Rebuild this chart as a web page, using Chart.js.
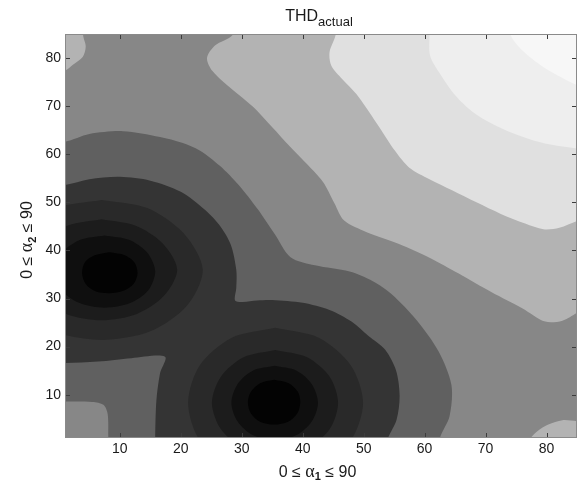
<!DOCTYPE html>
<html>
<head>
<meta charset="utf-8">
<script src="https://cdn.jsdelivr.net/npm/chart.js@4"></script>
<style>
  html, body { margin: 0; padding: 0; background: #fff; }
  canvas { display: block; }
</style>
</head>
<body>
<canvas id="thdChart" width="580" height="482"></canvas>
<script>
const xTicks = [10, 20, 30, 40, 50, 60, 70, 80];
const yTicks = [10, 20, 30, 40, 50, 60, 70, 80];

// grey of each filled level, darkest (lowest THD) first
const levelColors = ['#030303', '#0f0f0f', '#1c1c1c', '#292929', '#343434', '#606060',
  '#878787', '#b3b3b3', '#e0e0e0', '#eeeeee', '#f7f7f7'];

// contour outlines, [alpha1, alpha2]
const lightBand = [[29,88],[28.5,84.8],[25.6,82.6],[24.3,80],[25.2,77.3],[28.3,73.6],[31.8,69.9],
  [35,65.6],[37.9,61.6],[40.2,58.6],[43.3,54.3],[45.2,49.8],[46.8,46.2],[50.5,43.8],[55.9,41.3],
  [60.8,38.5],[65.6,35.2],[71,31.3],[76,28],[79.8,25.2],[82.6,25.4],[85,27],[88,28.5],[88,88]];
const lightTopLeft = [[-3,77],[1,77.4],[2.3,78.6],[3.9,80.2],[4.4,82.4],[4.0,84.5],[3.6,88],[-3,88]];
const lightBottomRight = [[76.2,-3],[77.2,0.6],[78.6,2.5],[80.3,3.8],[82.6,4.7],[85,4.5],[88,4.4],[88,-3]];
const paleBand = [[45.6,88],[45.4,84.8],[44.4,81.2],[44.7,78.4],[46.5,75.6],[48.8,72.5],[52.1,66.5],
  [55.2,60.6],[57.5,57.2],[60.8,54.8],[64.5,52.5],[68.5,50],[72.5,47.6],[76.5,45.6],[79.5,44.4],
  [82.1,44.7],[85,46.1],[88,47.5],[88,88]];
const paleCorner = [[60.9,88],[60.8,84.8],[60.9,80.5],[62.4,77],[64.8,72.6],[67.9,68.8],[71,66.4],
  [74.4,64.4],[78,62.8],[81.5,61.8],[85,61.2],[88,60.8],[88,88]];
const whiteCorner = [[74,88],[74.1,84.8],[76.1,81.5],[79.4,78.2],[83.3,75.4],[85,74.4],[88,73],[88,88]];

const midDark = [[-3,62.6],[1,62.6],[5,64.2],[10.5,64.8],[16.6,63.6],[20.2,62.4],[23.1,60.8],
  [26.4,57.6],[29.5,53.6],[32.6,48.6],[35.4,43.4],[38,38.6],[42,36.9],[47.7,35.6],[51.5,33.6],
  [54.6,30.9],[58.7,25.5],[62.3,19],[64.4,12],[64.1,5.6],[62.5,1],[62.2,-3],[8.2,-3],[8.1,1.3],
  [8.0,6.0],[7.3,7.9],[5.5,8.5],[1,8.6],[-3,8.6]];
const darkMerged = [[-3,53.3],[1,53.6],[5,54.8],[10,55.3],[15,54.5],[20,52.2],[24,48.4],[26.5,45],
  [28.2,41.2],[29.1,36],[29.1,32.2],[28.9,29.6],[30.2,29.3],[32.5,29.6],[35,29.7],[40,29.1],
  [44.4,27.6],[48,25.2],[50.8,22.2],[53.5,19.4],[55.3,15.1],[55.9,9.8],[55.4,4.8],[53.9,0.6],
  [53.7,-3],[15.8,-3],[15.8,1.3],[16,8.9],[16.6,14.5],[17.4,17.9],[11.9,17.6],[6.4,16.9],[1,16.6],[-3,16.6]];

// left minimum near (8, 35)
const ring3L = [[7,50.5],[14.5,48.8],[20.5,43.5],[23.6,36],[21,28.5],[15,23.2],[7,21.4],[-1,23.2],
  [-7,28.5],[-9.6,36],[-7,43.5],[-0.5,48.8],[7,50.5]];
const ring2L = [[7,46.5],[12.5,45.2],[17,41.5],[19.4,36],[17.2,30.5],[12.8,26.8],[7,25.5],[1.2,26.8],
  [-3,30.5],[-5.4,36],[-3,41.5],[1.5,45.2],[7,46.5]];
const ring1L = [[7.5,43.1],[11.5,42.2],[14.5,39.5],[15.8,35.6],[14.6,31.6],[11.6,29],[7.5,28.1],
  [3.5,29],[0.5,31.6],[-0.8,35.6],[0.5,39.5],[3.5,42.2],[7.5,43.1]];
const coreL = [[8.3,39.6],[10.8,39],[12.4,37.5],[12.9,35.3],[12.3,33.1],[10.6,31.6],[8.3,31.1],
  [6,31.5],[4.4,33],[3.8,35.3],[4.3,37.6],[5.9,39],[8.3,39.6]];

// lower minimum near (35, 8)
const ring3B = [[35.5,23.9],[42.7,21.8],[47.9,16.1],[49.9,8.3],[47.9,0.5],[42.7,-5.2],[35.5,-7.3],
  [28.3,-5.2],[23.1,0.5],[21.2,8.3],[23.1,16.1],[28.3,21.8],[35.5,23.9]];
const ring2B = [[35.5,19.3],[40.7,17.8],[44.4,13.8],[45.8,8.3],[44.4,2.8],[40.7,-1.2],[35.5,-2.7],
  [30.3,-1.2],[26.6,2.8],[25.1,8.3],[26.6,13.8],[30.3,17.8],[35.5,19.3]];
const ring1B = [[35.4,16],[39,15],[41.5,12.2],[42.5,8.3],[41.5,4.5],[39,1.6],[35.4,0.5],[31.8,1.6],
  [29.3,4.5],[28.3,8.3],[29.3,12.2],[31.8,15],[35.4,16]];
const coreB = [[35.3,13.1],[37.7,12.4],[39.2,10.6],[39.6,8.4],[39.1,6.1],[37.6,4.4],[35.3,3.8],
  [33,4.4],[31.5,6.1],[31,8.4],[31.5,10.6],[33,12.4],[35.3,13.1]];

const titleText = ['THD', 'actual'];
const xLabelText = ['0 \u2264 ', '\u03b1', '1', ' \u2264 90'];
const yLabelText = ['0 \u2264 ', '\u03b1', '2', ' \u2264 90'];

// painted back to front, level 6 is the plot background
const bands = [
  { pts: lightBand, level: 7 },
  { pts: lightTopLeft, level: 7 },
  { pts: lightBottomRight, level: 7 },
  { pts: paleBand, level: 8 },
  { pts: paleCorner, level: 9 },
  { pts: whiteCorner, level: 10 },
  { pts: midDark, level: 5 },
  { pts: darkMerged, level: 4 },
  { pts: ring3L, level: 3 },
  { pts: ring3B, level: 3 },
  { pts: ring2L, level: 2 },
  { pts: ring2B, level: 2 },
  { pts: ring1L, level: 1 },
  { pts: ring1B, level: 1 },
  { pts: coreL, level: 0 },
  { pts: coreB, level: 0 }
];

const sans = '"Liberation Sans", Arial, sans-serif';
const serif = '"Liberation Serif", "DejaVu Serif", serif';
const textColor = '#1a1a1a';

function drawParts(ctx, parts, cx, y) {
  let total = 0;
  const widths = parts.map(p => {
    ctx.font = p.font;
    const w = ctx.measureText(p.text).width;
    total += w;
    return w;
  });
  let x = cx - total / 2;
  parts.forEach((p, i) => {
    ctx.font = p.font;
    ctx.fillText(p.text, x, y + (p.dy || 0));
    x += widths[i];
  });
}

function labelParts(t) {
  return [
    { text: t[0], font: '16px ' + sans },
    { text: t[1], font: '18px ' + serif },
    { text: t[2], font: 'bold 11px ' + sans, dy: 3.5 },
    { text: t[3], font: '16px ' + sans }
  ];
}

const backgroundPlugin = {
  id: 'plotBackground',
  beforeDatasetsDraw(chart) {
    const { ctx, chartArea: a } = chart;
    ctx.save();
    ctx.fillStyle = levelColors[6];
    ctx.fillRect(a.left, a.top, a.right - a.left, a.bottom - a.top);
    ctx.restore();
  }
};

// matlab style box with ticks pointing inwards on all four sides
const framePlugin = {
  id: 'frame',
  afterDatasetsDraw(chart) {
    const { ctx, chartArea: a, scales } = chart;
    ctx.save();
    ctx.lineWidth = 1;
    ctx.strokeStyle = '#3c3c3c';
    ctx.beginPath();
    xTicks.forEach(v => {
      const px = Math.round(scales.x.getPixelForValue(v)) + 0.5;
      ctx.moveTo(px, a.bottom); ctx.lineTo(px, a.bottom - 5);
      ctx.moveTo(px, a.top); ctx.lineTo(px, a.top + 5);
    });
    yTicks.forEach(v => {
      const py = Math.round(scales.y.getPixelForValue(v)) + 0.5;
      ctx.moveTo(a.left, py); ctx.lineTo(a.left + 5, py);
      ctx.moveTo(a.right, py); ctx.lineTo(a.right - 5, py);
    });
    ctx.stroke();
    ctx.strokeStyle = '#8a8a8a';
    ctx.strokeRect(a.left + 0.5, a.top + 0.5, a.right - a.left - 1, a.bottom - a.top - 1);
    ctx.restore();
  }
};

const textPlugin = {
  id: 'axisText',
  afterDraw(chart) {
    const { ctx, chartArea: a } = chart;
    const cx = (a.left + a.right) / 2;
    ctx.save();
    ctx.fillStyle = textColor;
    ctx.textBaseline = 'alphabetic';
    drawParts(ctx, [
      { text: titleText[0], font: '16px ' + sans },
      { text: titleText[1], font: '13px ' + sans, dy: 5 }
    ], cx - 2, 20.5);
    drawParts(ctx, labelParts(xLabelText), cx - 3.5, 476.5);
    ctx.translate(32, (a.top + a.bottom) / 2 + 4);
    ctx.rotate(-Math.PI / 2);
    drawParts(ctx, labelParts(yLabelText), 0, 0);
    ctx.restore();
  }
};

const tickFont = { family: sans, size: 14 };

new Chart(document.getElementById('thdChart'), {
  type: 'scatter',
  data: {
    datasets: bands.map((b, i) => ({
      data: b.pts.map(([x, y]) => ({ x, y })),
      showLine: true,
      fill: 'shape',
      tension: 0.3,
      capBezierPoints: false,
      backgroundColor: levelColors[b.level],
      borderWidth: 0,
      pointRadius: 0,
      pointHoverRadius: 0,
      order: bands.length - i
    }))
  },
  options: {
    responsive: false,
    animation: false,
    devicePixelRatio: 1,
    events: [],
    layout: { padding: { top: 34, right: 3, left: 0, bottom: 0 } },
    plugins: {
      legend: { display: false },
      tooltip: { enabled: false },
      filler: { propagate: false }
    },
    scales: {
      x: {
        type: 'linear', min: 1, max: 85,
        grid: { display: false, drawTicks: false },
        border: { display: false },
        afterBuildTicks: s => { s.ticks = xTicks.map(v => ({ value: v })); },
        afterFit: s => { s.height = 44; },
        ticks: { font: tickFont, color: textColor, padding: 3, maxRotation: 0 }
      },
      y: {
        type: 'linear', min: 1, max: 85,
        grid: { display: false, drawTicks: false },
        border: { display: false },
        afterBuildTicks: s => { s.ticks = yTicks.map(v => ({ value: v })); },
        afterFit: s => { s.width = 65; },
        ticks: { font: tickFont, color: textColor, padding: 4 }
      }
    }
  },
  plugins: [backgroundPlugin, framePlugin, textPlugin]
});
</script>
</body>
</html>
